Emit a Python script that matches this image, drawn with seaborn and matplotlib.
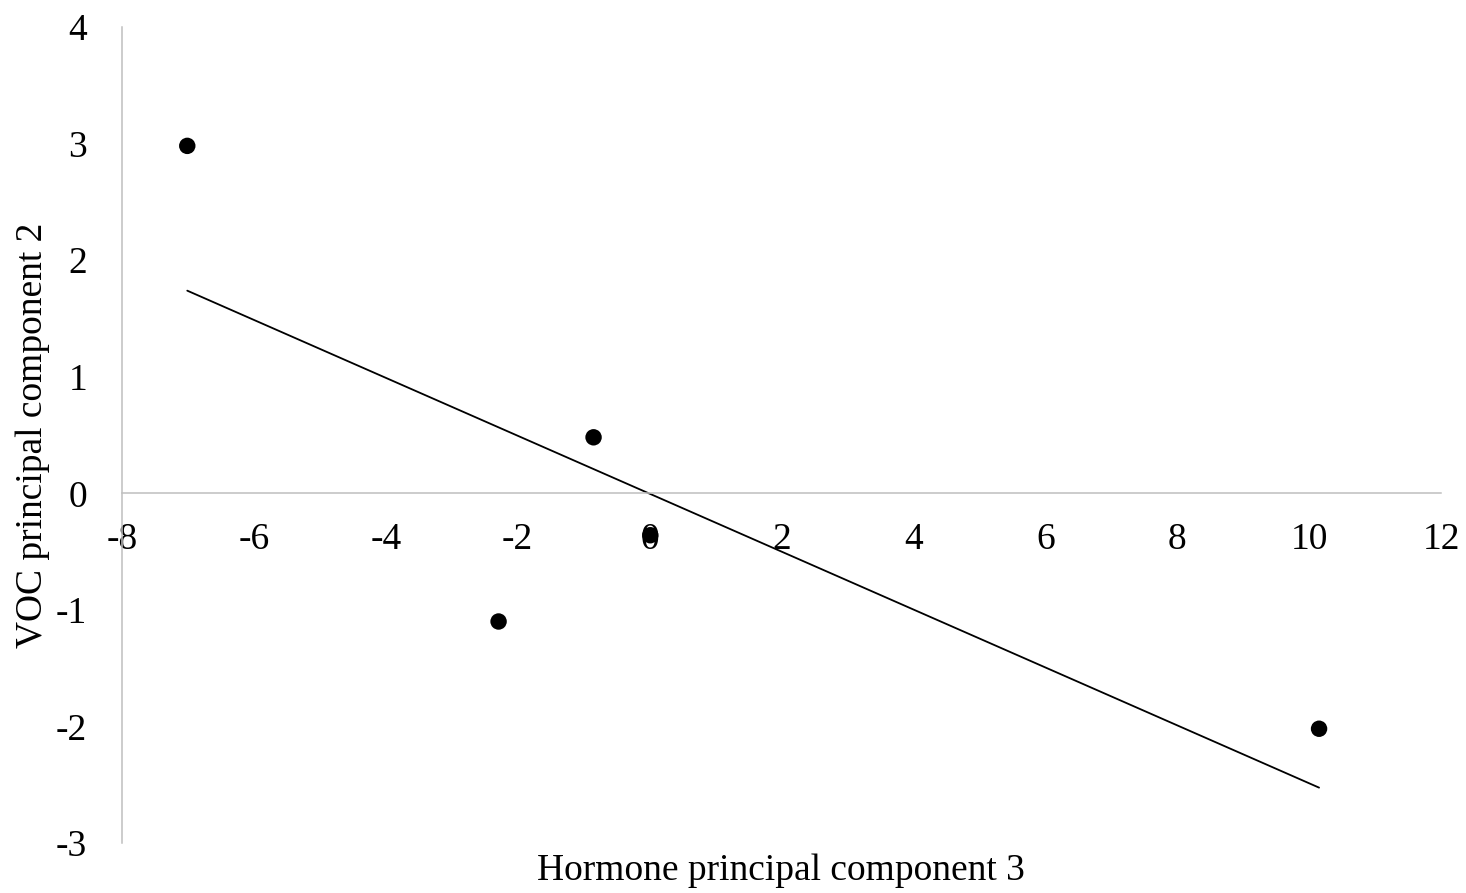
"""
Scatter of VOC PC2 against hormone PC3 with a linear trendline
"""
import matplotlib
matplotlib.use("Agg")
import matplotlib.pyplot as plt
import seaborn as sns
import pandas as pd

# values
hormone_pc3 = [-7.01, -0.85, 0.01, -2.29, 10.15]
voc_pc2 = [2.98, 0.48, -0.36, -1.10, -2.02]
x_ticks = [-8, -6, -4, -2, 0, 2, 4, 6, 8, 10, 12]
y_ticks = [-3, -2, -1, 0, 1, 2, 3, 4]

df = pd.DataFrame({"hormone": hormone_pc3, "voc": voc_pc2})

sns.set_style("white")
plt.rcParams["font.family"] = ["Liberation Serif", "DejaVu Serif"]
plt.rcParams["axes.unicode_minus"] = False
plt.rcParams["text.color"] = "black"
plt.rcParams["xtick.color"] = "black"
plt.rcParams["ytick.color"] = "black"

fig = plt.figure(figsize=(14.66, 8.93), dpi=100)
ax = fig.add_axes([0.0832, 0.056, 0.8998, 0.9138])

sns.regplot(data=df, x="hormone", y="voc", scatter=False, ci=None,
            truncate=True, color="black", line_kws={"linewidth": 1.3}, ax=ax)
# keep points under the tick labels, as in the original (the "0" sits on a point)
sns.scatterplot(data=df, x="hormone", y="voc", color="black", s=140,
                edgecolor="none", ax=ax, zorder=2)

ax.set_xlim(-8, 12)
ax.set_ylim(-3, 4)
ax.set_xticks(x_ticks)
ax.set_yticks(y_ticks)

grey = "#BFBFBF"
for side in ["top", "right"]:
    ax.spines[side].set_visible(False)
ax.spines["bottom"].set_position(("data", 0))
ax.spines["bottom"].set_color(grey)
ax.spines["left"].set_color(grey)
ax.spines["bottom"].set_linewidth(1.1)
ax.spines["left"].set_linewidth(1.1)

ax.tick_params(axis="x", length=0, pad=21, labelsize=27, labelcolor="black")
ax.tick_params(axis="y", length=0, pad=25, labelsize=27, labelcolor="black")

ax.set_xlabel("")
ax.set_ylabel("")
fig.text(0.533, 0.0146, "Hormone principal component 3", fontsize=27,
         ha="center", va="baseline", color="black")
fig.text(0.022, 0.513, "VOC principal component 2", fontsize=27,
         ha="center", va="center", rotation=90, color="black")

plt.savefig("out.png", dpi=100)
